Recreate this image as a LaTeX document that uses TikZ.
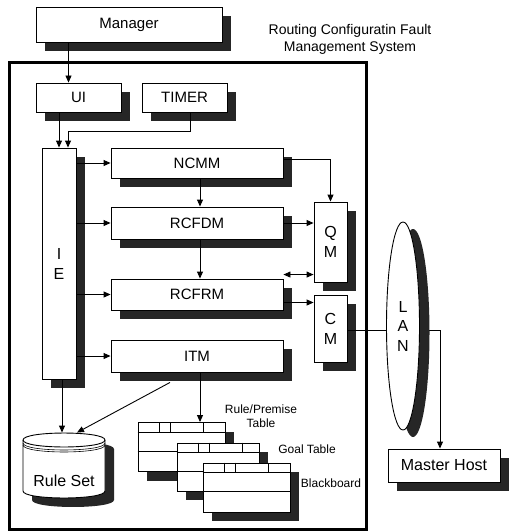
\documentclass[tikz,border=0pt]{standalone}
\usepackage{fontspec}
\setmainfont{Liberation Sans}
\usetikzlibrary{arrows.meta,shadows,shapes.geometric}

% header row and middle rule of a table sheet
\newcommand{\tabrows}[1]{%
  \draw ([yshift=-10pt]#1.north west) -- ([yshift=-10pt]#1.north east)
        ([yshift=-29pt]#1.north west) -- ([yshift=-29pt]#1.north east)
        ([xshift=22pt]#1.north west) -- ++(0,10)
        ([xshift=33pt]#1.north west) -- ++(0,10)
        ([xshift=66pt]#1.north west) -- ++(0,10);}

\begin{document}
\begin{tikzpicture}[x=1pt,y=-1pt,line width=0.9pt,>={Triangle[length=7pt,width=6pt]},
    box/.style={draw, fill=white, inner sep=0pt, font=\fontsize{15}{18}\selectfont,
      drop shadow={shadow xshift=9pt, shadow yshift=-9pt, fill=black!85, opacity=1}},
    tall/.style={box, align=center, font=\fontsize{16}{20}\selectfont},
    tab/.style={box, minimum width=87pt, minimum height=49pt},
    note/.style={font=\fontsize{12}{14}\selectfont, align=center}]
    \useasboundingbox[fill=white] (0,0) rectangle (509,532);

    \node[box, minimum width=186pt, minimum height=35pt] (Manager) at (129,24.5) {Manager};
    \node[note, font=\fontsize{14}{17}\selectfont] (Title) at (350,39) {Routing Configuratin Fault\\Management System};
    \draw[line width=3pt] (9,63) rectangle (366,529);

    \node[box, minimum width=85pt, minimum height=29pt] (UI) at (78.5,97.5) {UI};
    \node[box, minimum width=85pt, minimum height=29pt] (TIMER) at (184.5,97.5) {TIMER};
    \node[tall, minimum width=34pt, minimum height=231pt] (IE) at (59,263.5) {I\\E};
    \node[box, minimum width=172pt, minimum height=30pt] (NCMM) at (197,163) {NCMM};
    \node[box, minimum width=172pt, minimum height=32pt] (RCFDM) at (197,223) {RCFDM};
    \node[box, minimum width=172pt, minimum height=31pt] (RCFRM) at (197,294.5) {RCFRM};
    \node[box, minimum width=172pt, minimum height=32pt] (ITM) at (197,356) {ITM};
    \node[tall, minimum width=33pt, minimum height=80pt] (QM) at (330.5,242) {Q\\M};
    \node[tall, minimum width=33pt, minimum height=67pt] (CM) at (330.5,328.5) {C\\M};
    \node[box, font=\fontsize{16}{19}\selectfont, minimum width=112pt, minimum height=33pt] (MasterHost) at (444,465.5) {Master Host};

    % rule set drum
    \fill[black!85, shift={(9,9)}] (23,440) -- (23,491) .. controls (23,500.3) and (105,500.3) .. (105,491)
        -- (105,440) .. controls (105,430.7) and (23,430.7) .. (23,440) -- cycle;
    \draw[fill=white] (23,440) -- (23,491) .. controls (23,500.3) and (105,500.3) .. (105,491)
        -- (105,440) .. controls (105,430.7) and (23,430.7) .. (23,440) -- cycle;
    \draw (23,440) .. controls (23,449.3) and (105,449.3) .. (105,440);
    \draw[line width=0.6pt] (23,443) .. controls (23,452.3) and (105,452.3) .. (105,443);
    \draw[line width=0.6pt] (23,445) .. controls (23,454.3) and (105,454.3) .. (105,445);
    \node[inner sep=0pt, minimum width=82pt, minimum height=72pt, text height=35pt, text depth=0pt,
      font=\fontsize{16}{19}\selectfont] (RuleSet) at (64,469) {Rule Set};

    % table sheets
    \node[note] (RPlabel) at (261,416) {Rule/Premise\\Table};
    \node[note] (GoalLabel) at (307,449) {Goal Table};
    \node[note] (BBlabel) at (331,483) {Blackboard};
    \node[tab] (RPtab) at (181.5,447) {};
    \tabrows{RPtab}
    \node[tab, minimum width=82pt, minimum height=48pt] (Goaltab) at (218,467) {};
    \tabrows{Goaltab}
    \node[tab] (BBtab) at (246.5,487.5) {};
    \tabrows{BBtab}

    \draw[->] ([xshift=-10pt]UI.north |- Manager.south) -- ([xshift=-10pt]UI.north);
    \draw[->] (IE.north |- UI.south) -- (IE.north);
    \draw[->] ([xshift=6pt]TIMER.south) -- ++(0,19) -| ([xshift=9pt]IE.north);
    \draw[->] (IE.east |- NCMM.west) -- (NCMM.west);
    \draw[->] (IE.east |- RCFDM.west) -- (RCFDM.west);
    \draw[->] (IE.east |- RCFRM.west) -- (RCFRM.west);
    \draw[->] (IE.east |- ITM.west) -- (ITM.west);
    \draw[->] ([yshift=4pt]NCMM.east) -| (QM.north);
    \draw[->] ([xshift=3pt]NCMM.south) -- ([xshift=3pt]RCFDM.north);
    \draw[->] ([xshift=3pt]RCFDM.south) -- ([xshift=3pt]RCFRM.north);
    \draw[->] (RCFDM.east) -- (RCFDM.east -| QM.west);
    \draw[<->] ([yshift=4pt]RCFRM.north east) -- ([yshift=4pt]RCFRM.north east -| QM.west);
    \draw[->] ([yshift=-8pt]RCFRM.east) -- ([yshift=-8pt]RCFRM.east -| CM.west);
    \draw[->] ([xshift=3pt]IE.south) -- ([xshift=3pt]IE.south |- RuleSet.north);
    \draw[->] ([xshift=-27pt,yshift=-10pt]ITM.south) -- ([xshift=13pt]RuleSet.north);
    \draw[->] ([xshift=3pt]ITM.south) -- ([xshift=3pt]ITM.south |- RPtab.north);
    \draw[->] ([yshift=-2pt]CM.east) -| ([xshift=-4pt]MasterHost.north);

    \node[draw, ellipse, fill=white, minimum width=33pt, minimum height=208pt, inner sep=0pt,
      align=center, font=\fontsize{16}{19.5}\selectfont,
      drop shadow={shadow xshift=10pt, shadow yshift=-7pt, fill=black!85, opacity=1}] (LAN) at (403,326) {L\\A\\N};
\end{tikzpicture}
\end{document}
